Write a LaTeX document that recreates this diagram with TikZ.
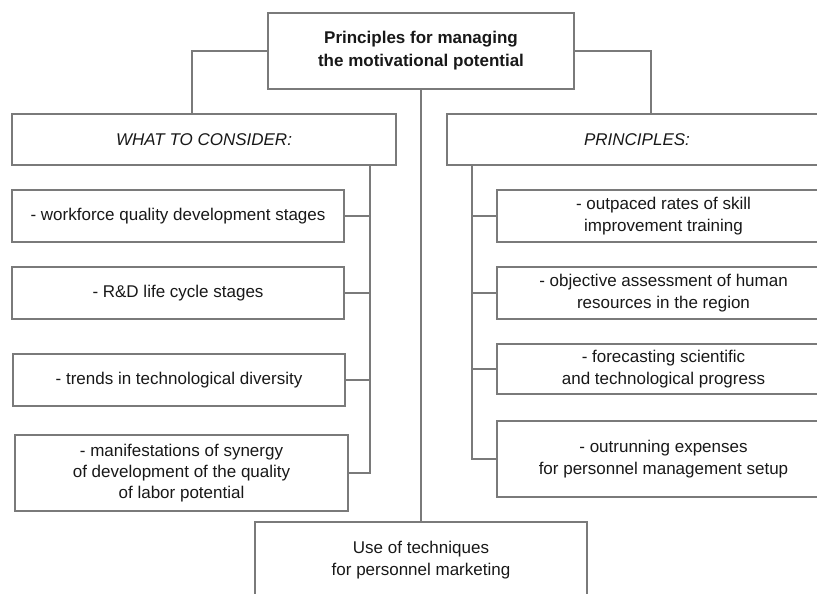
\documentclass[tikz,border=0pt]{standalone}
\usepackage{fontspec}
\setmainfont{Liberation Sans}
\usetikzlibrary{positioning}
\definecolor{linegray}{HTML}{7A7A7A}
\definecolor{textgray}{HTML}{181818}

\begin{document}
\begin{tikzpicture}[x=1pt,y=-1pt,
    box/.style={draw=linegray,line width=1.6pt,text=textgray,align=center,inner sep=0pt,
        font=\fontsize{17}{21.5}\selectfont},
    link/.style={draw=linegray,line width=1.6pt}]
    \useasboundingbox (0,0) rectangle (817,594);
    \clip (0,0) rectangle (817,594);
    % head and the two columns
    \node[box,minimum width=306pt,minimum height=76pt,font=\bfseries\fontsize{17}{23}\selectfont] (head) at (421,51) {Principles for managing\\the motivational potential};
    \node[box,minimum width=384pt,minimum height=51pt,font=\itshape\fontsize{17}{21.5}\selectfont] (consider) at (204,139.5) {WHAT TO CONSIDER:};
    \node[box,minimum width=380pt,minimum height=51pt,font=\itshape\fontsize{17}{21.5}\selectfont] (principles) at (637,139.5) {PRINCIPLES:};
    % left column
    \node[box,minimum width=332pt,minimum height=52pt] (w1) at (178,216) {- workforce quality development stages};
    \node[box,minimum width=332pt,minimum height=52pt] (w2) at (178,293) {- R\&D life cycle stages};
    \node[box,minimum width=332pt,minimum height=52pt] (w3) at (179,380) {- trends in technological diversity};
    \node[box,minimum width=333pt,minimum height=76pt,font=\fontsize{17}{21}\selectfont] (w4) at (181.5,473) {- manifestations of synergy\\of development of the quality\\of labor potential};
    % right column
    \node[box,minimum width=333pt,minimum height=52pt] (p1) at (663.5,216) {- outpaced rates of skill\\improvement training};
    \node[box,minimum width=333pt,minimum height=52pt] (p2) at (663.5,293) {- objective assessment of human\\resources in the region};
    \node[box,minimum width=333pt,minimum height=50pt] (p3) at (663.5,369) {- forecasting scientific\\and technological progress};
    \node[box,minimum width=333pt,minimum height=76pt] (p4) at (663.5,459) {- outrunning expenses\\for personnel management setup};
    \node[box,minimum width=332pt,minimum height=76pt] (market) at (421,560) {Use of techniques\\for personnel marketing};

    \coordinate (ljoin) at (192,0);
    \coordinate (rjoin) at (651,0);
    \coordinate (lbus) at (370,0);
    \coordinate (rbus) at (472,0);
    \draw[link] (head.west) -| (ljoin |- consider.north);
    \draw[link] (head.east) -| (rjoin |- principles.north);
    \draw[link] (head.south) -- (market.north);
    % left bus
    \draw[link] (lbus |- consider.south) -- (lbus |- w4.east) -- (w4.east);
    \draw[link] (w1.east) -- (lbus |- w1.east);
    \draw[link] (w2.east) -- (lbus |- w2.east);
    \draw[link] (w3.east) -- (lbus |- w3.east);
    % right bus
    \draw[link] (rbus |- principles.south) -- (rbus |- p4.west) -- (p4.west);
    \draw[link] (p1.west) -- (rbus |- p1.west);
    \draw[link] (p2.west) -- (rbus |- p2.west);
    \draw[link] (p3.west) -- (rbus |- p3.west);
\end{tikzpicture}
\end{document}
